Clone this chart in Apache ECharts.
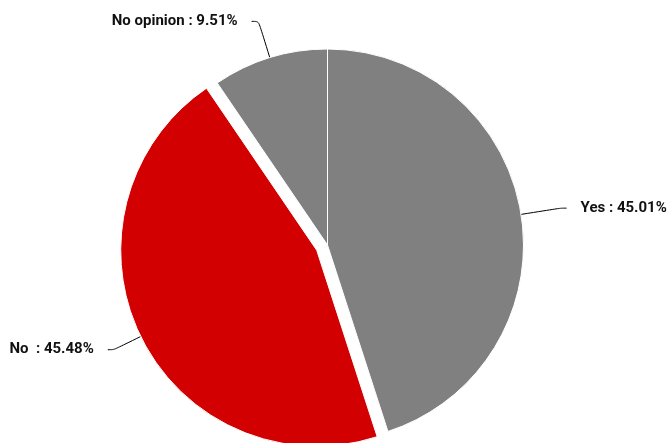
<!DOCTYPE html>
<html>
<head>
<meta charset="utf-8">
<script src="https://cdn.jsdelivr.net/npm/echarts@6/dist/echarts.min.js"></script>
<style>html,body{margin:0;padding:0;background:#fff;}#chart{width:669px;height:443px;}</style>
</head>
<body>
<div id="chart"></div>
<script>
var categories = ['Yes', 'No ', 'No opinion'];
var values = [45.01, 45.48, 9.51];
var colors = ['#808080', '#d20000', '#808080'];

var lineLens = [[40, 6], [30, 6], [38, 7]];

var chart = echarts.init(document.getElementById('chart'), null, {renderer: 'canvas'});
var data = categories.map(function (c, i) {
  return {
    name: c,
    value: values[i],
    selected: i === 1,
    itemStyle: {color: colors[i]},
    labelLine: {length: lineLens[i][0], length2: lineLens[i][1]}
  };
});
chart.setOption({
  animation: false,
  backgroundColor: '#fff',
  series: [{
    type: 'pie',
    center: [327.5, 245],
    radius: 196,
    startAngle: 90,
    clockwise: true,
    selectedMode: 'single',
    selectedOffset: 12,
    avoidLabelOverlap: false,
    itemStyle: {borderColor: '#fff', borderWidth: 1},
    label: {
      show: true,
      position: 'outside',
      fontFamily: 'Roboto',
      fontWeight: 'bold',
      fontSize: 15,
      color: '#111',
      bleedMargin: 0,
      overflow: 'none',
      padding: [5, 0, 0, 0],
      distanceToLabelLine: 14,
      formatter: function (p) { return p.name + ' : ' + p.value.toFixed(2) + '%'; }
    },
    labelLine: {show: true, smooth: 0.3, lineStyle: {color: '#000', width: 1}},
    emphasis: {disabled: true},
    data: data
  }]
});
</script>
</body>
</html>
